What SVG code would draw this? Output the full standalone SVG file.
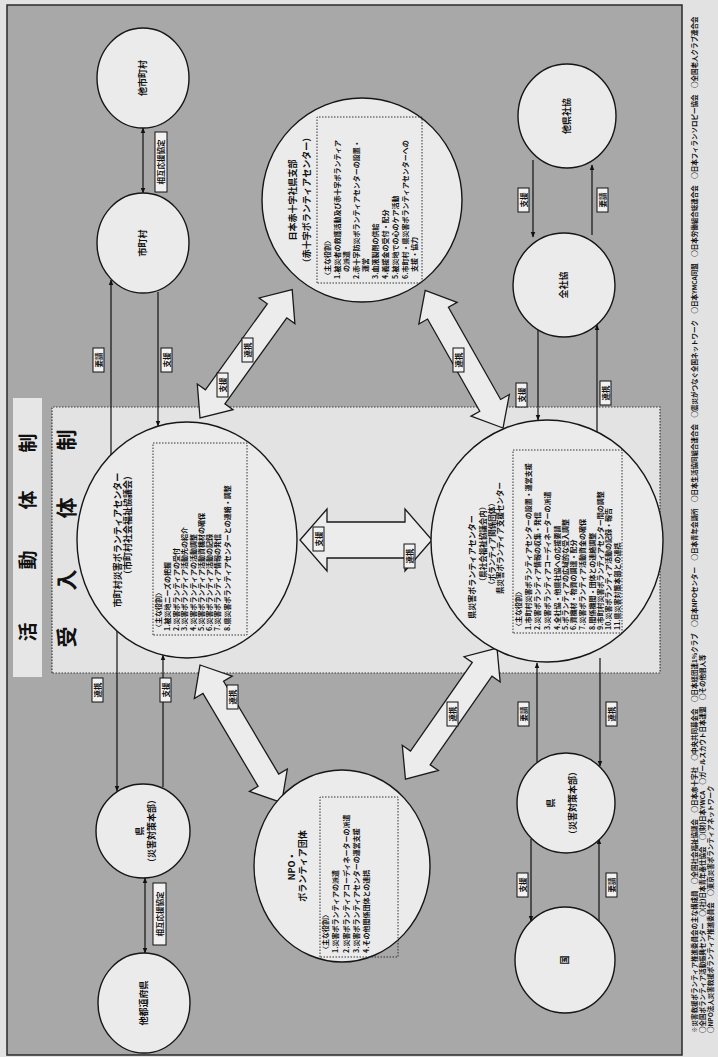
<svg xmlns="http://www.w3.org/2000/svg" width="718" height="1057" viewBox="0 0 718 1057">
<defs>
<style>
.page{fill:#e2e2e2}
.frame{fill:#a8a8a8;stroke:#2a2a2a;stroke-width:1.5}
.title{fill:#e6e6e6}
.zone{fill:#e3e3e3;stroke:#3a3a3a;stroke-width:1.2;stroke-dasharray:1.5 1.5}
.nd{fill:#ebebeb;stroke:#161616;stroke-width:1.4}
.box{fill:none;stroke:#333;stroke-width:1;stroke-dasharray:1.5 1.5}
.ln{stroke:#111;stroke-width:1.2;fill:none}
.blk{fill:#ececec;stroke:#1a1a1a;stroke-width:1.3}
.tag{fill:#f2f2f2;stroke:#111;stroke-width:1}
text{font-family:"Noto Sans CJK JP","Noto Sans CJK SC",sans-serif;fill:#111;font-weight:700}
.h1{font-size:19px;text-anchor:middle}
.h2{font-size:21px;text-anchor:middle}
.nm{font-size:9px;text-anchor:middle}
.tt{font-size:9px;text-anchor:middle}
.ts{font-size:7.5px;text-anchor:middle}
.it{font-size:7px}
.tg{font-size:7.5px;text-anchor:middle}
.fn{font-size:6.5px}
</style>
<marker id="ah" viewBox="0 0 10 10" refX="9" refY="5" markerWidth="5" markerHeight="5" orient="auto-start-reverse">
<path d="M0,1 L10,5 L0,9 z" fill="#111"/>
</marker>
</defs>

<rect class="page" x="0" y="0" width="718" height="1057"/>

<!-- the sheet is laid out landscape and turned a quarter turn -->
<g transform="translate(0 1057) rotate(-90)">
  <rect class="frame" x="2" y="7" width="1050" height="675"/>

  <!-- headings -->
  <g id="heading">
    <rect class="title" x="380" y="13" width="279" height="29"/>
    <text class="h1" x="425 497 557 614" y="35">活動体制</text>
  </g>
  <g id="reception-zone">
    <rect class="zone" x="384" y="52" width="266" height="608"/>
    <text class="h2" x="420 477 549 617" y="74">受入体制</text>
  </g>

  <!-- connectors -->
  <g id="connectors">
    <line class="ln" x1="929" y1="143" x2="864" y2="143" marker-start="url(#ah)" marker-end="url(#ah)"/>
    <line class="ln" x1="602" y1="111" x2="777" y2="111" marker-end="url(#ah)"/>
    <line class="ln" x1="765" y1="158" x2="631" y2="158" marker-end="url(#ah)"/>
    <line class="ln" x1="426" y1="117" x2="266" y2="117" marker-end="url(#ah)"/>
    <line class="ln" x1="270" y1="163" x2="402" y2="163" marker-end="url(#ah)"/>
    <line class="ln" x1="179" y1="145" x2="104" y2="145" marker-start="url(#ah)" marker-end="url(#ah)"/>
    <line class="ln" x1="897" y1="533" x2="820" y2="533" marker-end="url(#ah)"/>
    <line class="ln" x1="822" y1="592" x2="892" y2="592" marker-end="url(#ah)"/>
    <line class="ln" x1="727" y1="538" x2="637" y2="538" marker-end="url(#ah)"/>
    <line class="ln" x1="625" y1="597" x2="732" y2="597" marker-end="url(#ah)"/>
    <line class="ln" x1="295" y1="537" x2="394" y2="537" marker-end="url(#ah)"/>
    <line class="ln" x1="399" y1="600" x2="291" y2="600" marker-end="url(#ah)"/>
    <line class="ln" x1="218" y1="531" x2="136" y2="531" marker-end="url(#ah)"/>
    <line class="ln" x1="136" y1="599" x2="218" y2="599" marker-end="url(#ah)"/>

    <polygon class="blk" transform="translate(639 200) rotate(35.7)" points="0,0 26,-22 26,-12 132,-12 132,-22 158,0 132,22 132,12 26,12 26,22"/>
    <polygon class="blk" transform="translate(629 503) rotate(-29.5)" points="0,0 26,-22 26,-12 132,-12 132,-22 158,0 132,22 132,12 26,12 26,22"/>
    <polygon class="blk" transform="translate(517 300) rotate(90)" points="0,0 27,-31 27,-18 105,-18 105,-31 132,0 105,31 105,18 27,18 27,31"/>
    <polygon class="blk" transform="translate(392 200) rotate(149.3)" points="0,0 26,-22 26,-12 134,-12 134,-22 160,0 134,22 134,12 26,12 26,22"/>
    <polygon class="blk" transform="translate(409 497) rotate(-145.1)" points="0,0 26,-22 26,-12 134,-12 134,-22 160,0 134,22 134,12 26,12 26,22"/>

    <rect class="tag" x="865" y="155" width="60" height="12"/><text class="tg" x="895" y="164">相互応援協定</text>
    <rect class="tag" x="685" y="93" width="24" height="11"/><text class="tg" x="697" y="101.5">要請</text>
    <rect class="tag" x="685" y="161" width="24" height="11"/><text class="tg" x="697" y="169.5">支援</text>
    <rect class="tag" x="355" y="92" width="24" height="11"/><text class="tg" x="367" y="100.5">連携</text>
    <rect class="tag" x="355" y="160" width="24" height="11"/><text class="tg" x="367" y="168.5">支援</text>
    <rect class="tag" x="112" y="153" width="62" height="13"/><text class="tg" x="143" y="162.5">相互応援協定</text>
    <rect class="tag" x="845" y="518" width="24" height="11"/><text class="tg" x="857" y="526.5">支援</text>
    <rect class="tag" x="845" y="597" width="24" height="11"/><text class="tg" x="857" y="605.5">要請</text>
    <rect class="tag" x="650" y="516" width="24" height="11"/><text class="tg" x="662" y="524.5">支援</text>
    <rect class="tag" x="652" y="600" width="24" height="11"/><text class="tg" x="664" y="608.5">連携</text>
    <rect class="tag" x="331" y="518" width="24" height="11"/><text class="tg" x="343" y="526.5">要請</text>
    <rect class="tag" x="331" y="606" width="24" height="11"/><text class="tg" x="343" y="614.5">連携</text>
    <rect class="tag" x="160" y="517" width="24" height="11"/><text class="tg" x="172" y="525.5">支援</text>
    <rect class="tag" x="160" y="606" width="24" height="11"/><text class="tg" x="172" y="614.5">要請</text>

    <rect class="tag" x="695" y="242" width="24" height="11"/><text class="tg" x="707" y="250.5">連携</text>
    <rect class="tag" x="660" y="217" width="24" height="11"/><text class="tg" x="672" y="225.5">支援</text>
    <rect class="tag" x="685" y="453" width="24" height="11"/><text class="tg" x="697" y="461.5">連携</text>
    <rect class="tag" x="506" y="313" width="24" height="11"/><text class="tg" x="518" y="321.5">支援</text>
    <rect class="tag" x="489" y="404" width="24" height="11"/><text class="tg" x="501" y="412.5">連携</text>
    <rect class="tag" x="348" y="227" width="24" height="11"/><text class="tg" x="360" y="235.5">連携</text>
    <rect class="tag" x="331" y="447" width="24" height="11"/><text class="tg" x="343" y="455.5">連携</text>
  </g>

  <!-- outer chain nodes -->
  <g id="node-other-towns">
    <ellipse class="nd" cx="979" cy="143" rx="50" ry="46"/>
    <text class="nm" x="979" y="146">他市町村</text>
  </g>
  <g id="node-towns">
    <ellipse class="nd" cx="814" cy="143" rx="50" ry="46"/>
    <text class="nm" x="814" y="146">市町村</text>
  </g>
  <g id="node-pref-office">
    <ellipse class="nd" cx="226" cy="143" rx="47" ry="47"/>
    <text class="nm" x="226" y="143">県</text>
    <text class="nm" x="226" y="155">（災害対策本部）</text>
  </g>
  <g id="node-other-prefs">
    <ellipse class="nd" cx="54" cy="144" rx="50" ry="46"/>
    <text class="nm" x="54" y="147">他都道府県</text>
  </g>
  <g id="node-other-councils">
    <ellipse class="nd" cx="941" cy="567" rx="52" ry="49"/>
    <text class="nm" x="941" y="570">他県社協</text>
  </g>
  <g id="node-national-council">
    <ellipse class="nd" cx="772" cy="564" rx="52" ry="51"/>
    <text class="nm" x="772" y="567">全社協</text>
  </g>
  <g id="node-pref-hq">
    <ellipse class="nd" cx="254" cy="566" rx="50" ry="49"/>
    <text class="nm" x="254" y="554">県</text>
    <text class="nm" x="254" y="576">（災害対策本部）</text>
  </g>
  <g id="node-state">
    <ellipse class="nd" cx="97" cy="565" rx="53" ry="50"/>
    <text class="nm" x="97" y="568">国</text>
  </g>

  <!-- Red Cross -->
  <g id="node-red-cross">
    <ellipse class="nd" cx="857" cy="362" rx="102" ry="100"/>
    <text class="tt" x="857" y="296">日本赤十字社県支部</text>
    <text class="tt" x="857" y="310">（赤十字ボランティアセンター）</text>
    <rect class="box" x="774" y="317" width="166" height="105"/>
    <text class="it" x="778" y="330">〈主な役割〉</text>
    <text class="it" x="778" y="340">1.被災者の救護活動及び赤十字ボランティア</text>
    <text class="it" x="778" y="349">　の派遣</text>
    <text class="it" x="778" y="359">2.赤十字防災ボランティアセンターの設置・</text>
    <text class="it" x="778" y="368">　運営</text>
    <text class="it" x="778" y="378">3.血液製剤の供給</text>
    <text class="it" x="778" y="388">4.義援金の受付・配分</text>
    <text class="it" x="778" y="398">5.被災地での心のケア活動</text>
    <text class="it" x="778" y="408">6.市町村・県災害ボランティアセンターへの</text>
    <text class="it" x="778" y="417">　支援・協力</text>
  </g>

  <!-- municipal volunteer centre -->
  <g id="node-town-centre">
    <ellipse class="nd" cx="517" cy="187" rx="118" ry="110"/>
    <text class="tt" x="517" y="120.5">市町村災害ボランティアセンター</text>
    <text class="tt" x="532" y="130.5">（市町村社会福祉協議会）</text>
    <rect class="box" x="422" y="153" width="192" height="94"/>
    <text class="it" x="426" y="161">〈主な役割〉</text>
    <text class="it" x="426" y="170">1.被災地ニーズの把握</text>
    <text class="it" x="426" y="179">2.災害ボランティアの受付</text>
    <text class="it" x="426" y="187">3.災害ボランティア活動先の紹介</text>
    <text class="it" x="426" y="196">4.災害ボランティアの活動調整</text>
    <text class="it" x="426" y="204">5.災害ボランティア活動資機材の確保</text>
    <text class="it" x="426" y="212">6.災害ボランティア活動の記録</text>
    <text class="it" x="426" y="220">7.災害ボランティア情報の発信</text>
    <text class="it" x="426" y="230">8.県災害ボランティアセンターとの連絡・調整</text>
  </g>

  <!-- prefectural volunteer centre -->
  <g id="node-pref-centre">
    <ellipse class="nd" cx="516" cy="547" rx="121" ry="116"/>
    <text class="tt" x="490" y="474.5" style="font-size:8px">県災害ボランティアセンター</text>
    <text class="ts" x="513" y="485.5">（県社会福祉協議会内）</text>
    <text class="ts" x="513" y="494.5">（ボランティア関係団体）</text>
    <text class="ts" x="519" y="503">県災害ボランティア支援センター</text>
    <rect class="box" x="424" y="513" width="183" height="109"/>
    <text class="it" x="427" y="521">〈主な役割〉</text>
    <text class="it" x="427" y="531">1.市町村災害ボランティアセンターの設置・運営支援</text>
    <text class="it" x="427" y="540">2.災害ボランティア情報の収集・発信</text>
    <text class="it" x="427" y="550">3.災害ボランティアコーディネーターの派遣</text>
    <text class="it" x="427" y="560">4.全社協・他県社協への応援要請</text>
    <text class="it" x="427" y="568">5.ボランティアの広域的な受入調整</text>
    <text class="it" x="427" y="576">6.資機材・物資の調達・配分</text>
    <text class="it" x="427" y="585">7.災害ボランティア活動資金の確保</text>
    <text class="it" x="427" y="595">8.関係機関・団体との連絡調整</text>
    <text class="it" x="427" y="603">9.市町村災害ボランティアセンター間の調整</text>
    <text class="it" x="427" y="611">10.災害ボランティア活動の記録・報告</text>
    <text class="it" x="427" y="620">11.県災害対策本部との連携</text>
  </g>

  <!-- NPO / volunteer groups -->
  <g id="node-npo">
    <ellipse class="nd" cx="191" cy="342" rx="96" ry="88"/>
    <text class="tt" x="191" y="295">NPO・</text>
    <text class="tt" x="191" y="306">ボランティア団体</text>
    <rect class="box" x="100" y="320" width="160" height="78"/>
    <text class="it" x="104" y="328">〈主な役割〉</text>
    <text class="it" x="104" y="338">1.災害ボランティアの派遣</text>
    <text class="it" x="104" y="349">2.災害ボランティアコーディネーターの派遣</text>
    <text class="it" x="104" y="359">3.災害ボランティアセンターの運営支援</text>
    <text class="it" x="104" y="369">4.その他関係団体との連携</text>
  </g>

  <!-- notes -->
  <g id="notes">
    <text class="fn" x="24" y="697">※災害救援ボランティア推進委員会の主な構成員　○全国社会福祉協議会　○日本赤十字社　○中央共同募金会　○日本経団連1%クラブ　○日本NPOセンター　○日本青年会議所　○日本生活協同組合連合会　○震災がつなぐ全国ネットワーク　○日本YMCA同盟　○日本労働組合総連合会　○日本フィランソロピー協会　○全国老人クラブ連合会</text>
    <text class="fn" x="24" y="705">○全国ボランティア活動振興センター　○(社)日本青年奉仕協会　○(財)日本YWCA　○ガールスカウト日本連盟　○その他個人等</text>
    <text class="fn" x="24" y="713">○NPO法人災害救援ボランティア推進委員会　○東京災害ボランティアネットワーク</text>
  </g>
</g>
</svg>
